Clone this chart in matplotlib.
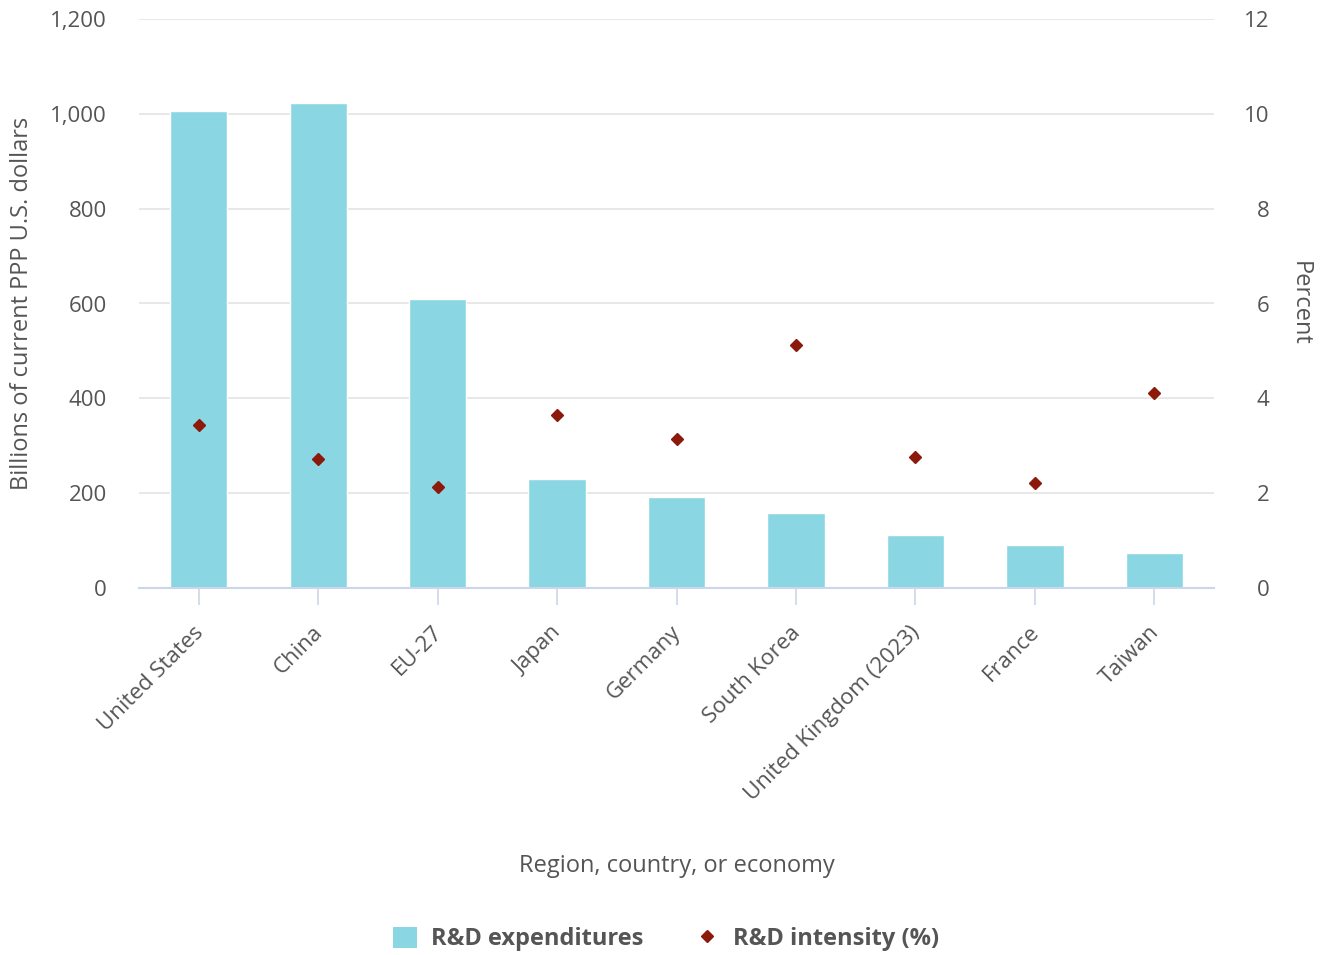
import matplotlib
matplotlib.use("Agg")
import matplotlib.pyplot as plt
import matplotlib.transforms as mtransforms
from matplotlib.patches import Patch
from matplotlib.lines import Line2D

plt.rcParams['font.family'] = ['Open Sans', 'DejaVu Sans']

categories = ["United States", "China", "EU-27", "Japan", "Germany", "South Korea",
              "United Kingdom (2023)", "France", "Taiwan"]
expenditures = [1006, 1023, 610, 230, 192, 158, 112, 91, 74]
intensity = [3.44, 2.72, 2.13, 3.65, 3.14, 5.13, 2.76, 2.22, 4.11]
left_ticks = [0, 200, 400, 600, 800, 1000, 1200]
right_ticks = [0, 2, 4, 6, 8, 10, 12]

bar_color = '#8ad7e3'
dot_color = '#8b1a0a'
text_color = '#555555'
axis_color = '#ccd6eb'
grid_color = '#e6e6e6'

fig = plt.figure(figsize=(13.25, 9.55), dpi=100)
ax = fig.add_axes([139/1325, 1 - 588/955, 1075/1325, 569/955])
ax2 = ax.twinx()

x = list(range(len(categories)))
ax.set_axisbelow(True)
ax.yaxis.grid(True, color=grid_color, linewidth=1.3)
ax.bar(x, expenditures, width=0.48, color=bar_color, edgecolor='white', linewidth=1, zorder=2)
ax.set_xlim(-0.5, len(categories) - 0.5)
ax.set_ylim(0, 1200)
ax.set_yticks(left_ticks)
ax.set_yticklabels([f"{v:,}" for v in left_ticks])

ax2.plot(x, intensity, linestyle='none', marker='D', markersize=6.5,
         color=dot_color, zorder=3)
ax2.set_ylim(0, 12)
ax2.set_yticks(right_ticks)

for a in (ax, ax2):
    for s in ('top', 'left', 'right', 'bottom'):
        a.spines[s].set_visible(False)

ax.spines['bottom'].set_visible(True)
ax.spines['bottom'].set_color(axis_color)
ax.spines['bottom'].set_linewidth(1.5)

ax.tick_params(axis='y', length=0, pad=23, labelsize=16, labelcolor=text_color)
ax2.tick_params(axis='y', length=0, pad=40, labelsize=16, labelcolor=text_color)
for t in ax2.get_yticklabels():
    t.set_horizontalalignment('right')

ax.set_xticks(x)
ax.set_xticklabels(categories, rotation=45, ha='right', rotation_mode='anchor',
                   fontsize=16, color=text_color)
ax.tick_params(axis='x', length=12, width=1.2, color=axis_color, pad=11)
offset = mtransforms.ScaledTranslation(-6/100, -2/100, fig.dpi_scale_trans)
for t in ax.get_xticklabels():
    t.set_transform(t.get_transform() + offset)

fig.text(22/1325, 1 - 303/955, "Billions of current PPP U.S. dollars", rotation=90,
         ha='center', va='center', fontsize=17, color=text_color)
fig.text(1300/1325, 1 - 303/955, "Percent", rotation=270,
         ha='center', va='center', fontsize=17, color=text_color)
fig.text(677/1325, 1 - 866/955, "Region, country, or economy",
         ha='center', va='center', fontsize=17, color=text_color)

handles = [Patch(facecolor=bar_color, edgecolor='none', label='R&D expenditures'),
           Line2D([], [], linestyle='none', marker='D', markersize=6.5, color=dot_color,
                  label='R&D intensity (%)')]
leg = fig.legend(handles=handles, loc='center', bbox_to_anchor=(666/1325, 1 - 939/955),
                 ncol=2, frameon=False, prop={'weight': 'bold', 'size': 17},
                 handlelength=1.0, handleheight=1.0, columnspacing=2.2, handletextpad=0.6)
for t in leg.get_texts():
    t.set_color(text_color)

fig.savefig("out.png", dpi=100, facecolor='white')
